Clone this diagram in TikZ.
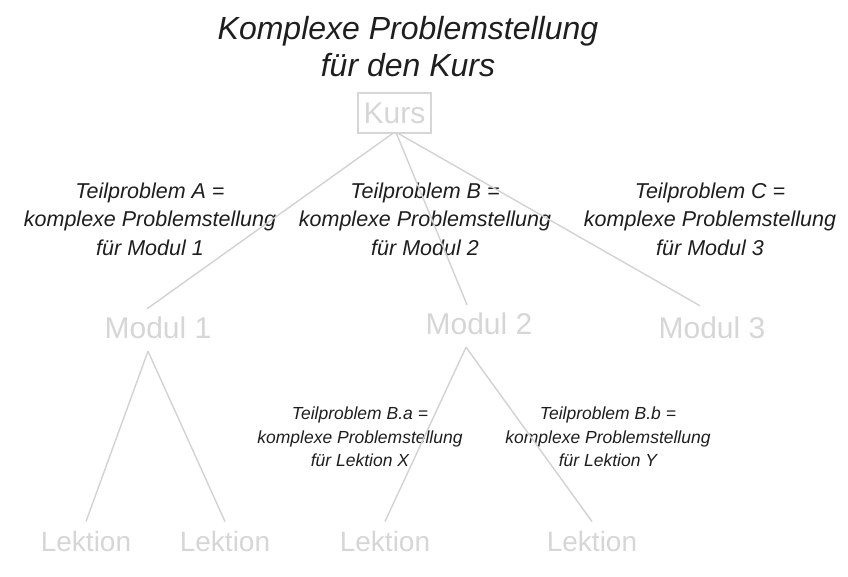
\documentclass[tikz,border=0pt]{standalone}
\usepackage{fontspec}
\setmainfont{Liberation Sans}
\definecolor{lightnode}{HTML}{D6D6D6}
\definecolor{lightline}{HTML}{D2D2D2}
\definecolor{labeltext}{HTML}{1E1E1E}
\begin{document}
\begin{tikzpicture}[x=1pt,y=-1pt,
  treenode/.style={text=lightnode, inner sep=2pt, font=\fontsize{30}{34}\selectfont},
  leafnode/.style={text=lightnode, inner sep=2pt, font=\fontsize{28}{32}\selectfont},
  biglabel/.style={text=labeltext, align=center, font=\fontsize{21.5}{28.5}\selectfont\itshape},
  smalllabel/.style={text=labeltext, align=center, font=\fontsize{17.5}{23.5}\selectfont\itshape},
  edge/.style={draw=lightline, line width=1.4pt}]
\useasboundingbox (0,0) rectangle (848,577);
\node[text=labeltext, align=center, font=\fontsize{32}{37}\selectfont\itshape] (title) at (408,47) {Komplexe Problemstellung\\für den Kurs};
\node[treenode, draw=lightnode, line width=1.2pt, minimum width=73pt, minimum height=40pt, inner sep=0pt] (kurs) at (394.5,113) {Kurs};
\node[treenode] (m1) at (158,328) {Modul 1};
\node[treenode] (m2) at (479,324) {Modul 2};
\node[treenode] (m3) at (712,328) {Modul 3};
\node[leafnode] (l1) at (86,541) {Lektion};
\node[leafnode] (l2) at (225,541) {Lektion};
\node[leafnode] (l3) at (385,541) {Lektion};
\node[leafnode] (l4) at (592,541) {Lektion};
\node[biglabel] (ta) at (150,219) {Teilproblem A =\\komplexe Problemstellung\\für Modul 1};
\node[biglabel] (tb) at (425,219) {Teilproblem B =\\komplexe Problemstellung\\für Modul 2};
\node[biglabel] (tc) at (710,219) {Teilproblem C =\\komplexe Problemstellung\\für Modul 3};
\node[smalllabel] (tba) at (360,437) {Teilproblem B.a =\\komplexe Problemstellung\\für Lektion X};
\node[smalllabel] (tbb) at (608,437) {Teilproblem B.b =\\komplexe Problemstellung\\für Lektion Y};
\draw[edge] ([xshift=-2pt]kurs.south) -- ([xshift=-11pt,yshift=6pt]m1.north);
\draw[edge] ([xshift=2pt]kurs.south) -- ([xshift=-12pt,yshift=6pt]m2.north);
\draw[edge] ([xshift=4pt]kurs.south) -- ([xshift=-12pt,yshift=9pt]m3.north);
\draw[edge] ([xshift=-10pt,yshift=-10pt]m1.south) -- ([yshift=7pt]l1.north);
\draw[edge] ([xshift=-10pt,yshift=-10pt]m1.south) -- ([yshift=7pt]l2.north);
\draw[edge] ([xshift=-13pt,yshift=-10pt]m2.south) -- ([yshift=7pt]l3.north);
\draw[edge] ([xshift=-13pt,yshift=-10pt]m2.south) -- ([yshift=7pt]l4.north);
\end{tikzpicture}
\end{document}
